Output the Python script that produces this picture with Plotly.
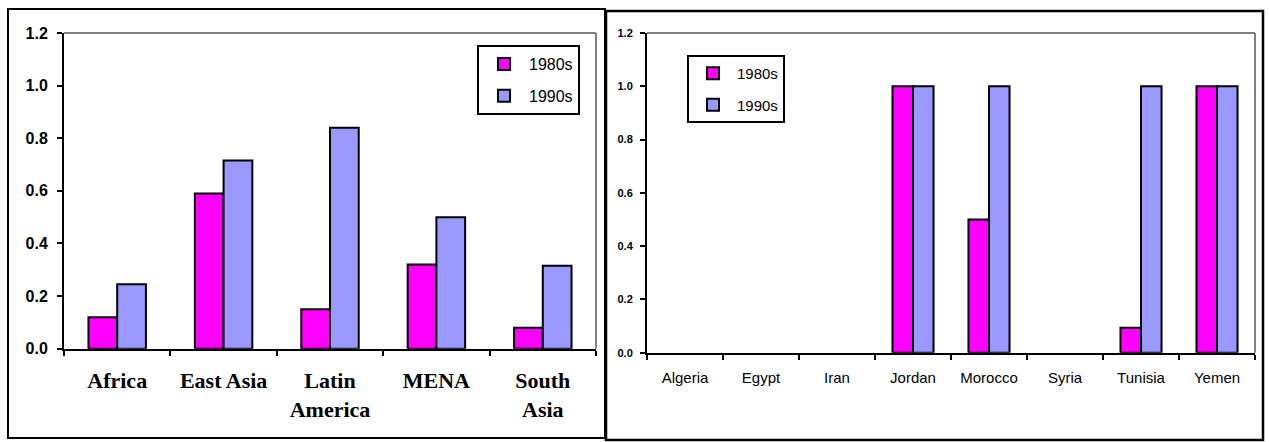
import plotly.graph_objects as go

# ---- data ----
regions = ["Africa", "East Asia", "Latin<br>America", "MENA", "South<br>Asia"]
regions_1980s = [0.12, 0.59, 0.15, 0.32, 0.08]
regions_1990s = [0.245, 0.715, 0.84, 0.50, 0.315]

countries = ["Algeria", "Egypt", "Iran", "Jordan", "Morocco", "Syria", "Tunisia", "Yemen"]
countries_1980s = [None, None, None, 1.0, 0.5, None, 0.094, 1.0]
countries_1990s = [None, None, None, 1.0, 1.0, None, 1.0, 1.0]

series_names = ["1980s", "1990s"]
PINK = "#FF00FF"
BLUE = "#9999FF"

W, H = 1269, 442


def px(x):
    return x / W


def py(y):
    return 1 - y / H


fig = go.Figure()

# left panel
for name, vals, col in [(series_names[0], regions_1980s, PINK), (series_names[1], regions_1990s, BLUE)]:
    fig.add_trace(go.Bar(
        x=regions, y=vals, name=name, marker=dict(color=col, line=dict(color="black", width=2)),
        xaxis="x", yaxis="y", legend="legend", legendgroup="L" + name,
    ))

# right panel
for name, vals, col in [(series_names[0], countries_1980s, PINK), (series_names[1], countries_1990s, BLUE)]:
    fig.add_trace(go.Bar(
        x=countries, y=vals, name=name, marker=dict(color=col, line=dict(color="black", width=2)),
        xaxis="x2", yaxis="y2", legend="legend2", legendgroup="R" + name,
    ))

common_y = dict(range=[0, 1.2], dtick=0.2, tick0=0, tickformat=".1f", showgrid=False, zeroline=False,
                showline=True, linecolor="black", linewidth=2, ticks="outside", ticklen=5,
                tickwidth=2, tickcolor="black")
common_x = dict(type="category", tickson="boundaries", showgrid=False, showline=True,
                linecolor="black", linewidth=2, ticks="outside", ticklen=5, tickwidth=2,
                tickcolor="black", tickangle=0)

fig.update_layout(
    width=W, height=H,
    margin=dict(l=0, r=0, t=0, b=0, autoexpand=False),
    paper_bgcolor="white", plot_bgcolor="white",
    barmode="group", bargap=0.46, bargroupgap=0,
    xaxis=dict(domain=[px(64), px(596)], anchor="y",
               tickfont=dict(family="Liberation Serif", size=22, color="black", weight="bold"),
               ticklabelstandoff=11, **common_x),
    yaxis=dict(domain=[py(348.7), py(33)], anchor="x",
               tickfont=dict(family="Liberation Sans", size=16, color="black", weight="bold"),
               ticklabelstandoff=6, **common_y),
    xaxis2=dict(domain=[px(647), px(1255)], anchor="y2",
                tickfont=dict(family="Liberation Sans", size=15, color="black"),
                ticklabelstandoff=10, **common_x),
    yaxis2=dict(domain=[py(352.7), py(33)], anchor="x2",
                tickfont=dict(family="Liberation Sans", size=11, color="black", weight="bold"),
                ticklabelstandoff=5, **common_y),
    legend=dict(x=px(477), y=py(45), xanchor="left", yanchor="top",
                bordercolor="black", borderwidth=2, bgcolor="white",
                font=dict(family="Liberation Sans", size=16, color="black"),
                tracegroupgap=8, itemwidth=40),
    legend2=dict(x=px(687), y=py(55), xanchor="left", yanchor="top",
                 bordercolor="black", borderwidth=2, bgcolor="white",
                 font=dict(family="Liberation Sans", size=15, color="black"),
                 tracegroupgap=9, itemwidth=38),
    showlegend=True,
)

shapes = [
    # outer frames
    dict(type="rect", xref="paper", yref="paper", x0=px(8), x1=px(605), y0=py(438), y1=py(9),
         line=dict(color="black", width=2)),
    dict(type="rect", xref="paper", yref="paper", x0=px(606), x1=px(1263), y0=py(440), y1=py(11),
         line=dict(color="black", width=2.5)),
    # gray top/right of plot areas
    dict(type="line", xref="paper", yref="paper", x0=px(64), x1=px(596), y0=py(33), y1=py(33),
         line=dict(color="#808080", width=2)),
    dict(type="line", xref="paper", yref="paper", x0=px(596), x1=px(596), y0=py(348.7), y1=py(33),
         line=dict(color="#808080", width=2)),
    dict(type="line", xref="paper", yref="paper", x0=px(647), x1=px(1255), y0=py(33), y1=py(33),
         line=dict(color="#808080", width=2)),
    dict(type="line", xref="paper", yref="paper", x0=px(1255), x1=px(1255), y0=py(352.7), y1=py(33),
         line=dict(color="#808080", width=2)),
]
fig.update_layout(shapes=shapes)

fig.write_html("out.html")
